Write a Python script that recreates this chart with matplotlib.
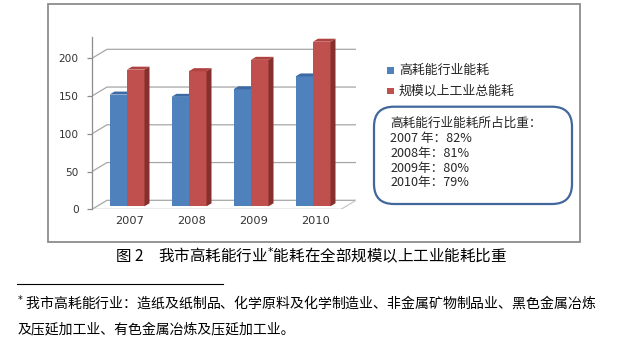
import matplotlib
matplotlib.use('Agg')
import matplotlib.pyplot as plt
from matplotlib.patches import Polygon, Rectangle, FancyBboxPatch
from matplotlib.transforms import IdentityTransform

plt.rcParams['font.family'] = ['Noto Sans CJK SC', 'DejaVu Sans']

# ---- data ----
years = ['2007', '2008', '2009', '2010']
high_energy = [148, 145, 155, 172]
total_energy = [181, 179, 194, 218]
series_names = ['高耗能行业能耗', '规模以上工业总能耗']
share_years = ['2007 年', '2008年', '2009年', '2010年']
shares = [82, 81, 80, 79]
yticks = [0, 50, 100, 150, 200]
box_title = '高耗能行业能耗所占比重：'
caption = '图 2\u3000我市高耗能行业$^{*}$能耗在全部规模以上工业能耗比重'
foot1 = '$^{*}$ 我市高耗能行业：造纸及纸制品、化学原料及化学制造业、非金属矿物制品业、黑色金属冶炼'
foot2 = '及压延加工业、有色金属冶炼及压延加工业。'

W, H = 620, 353
fig = plt.figure(figsize=(W / 100, H / 100), dpi=100)
fig.patch.set_facecolor('white')


def fx(p):
    return p / W


def fy(p):
    return 1 - p / H


PIX = IdentityTransform()

# outer frame
fig.patches.append(Rectangle((47.5, H - 242), 532.5, 238.5, transform=PIX,
                             fill=False, edgecolor='#8c8c8c', linewidth=1.3))

# ---- axes ----
ax_l, ax_r, ax_t, ax_b = 92, 356, 37, 209.3
ax = fig.add_axes([fx(ax_l), fy(ax_b), (ax_r - ax_l) / W, (ax_b - ax_t) / H])
ax.set_facecolor('none')
cat_px = 62.0
val_px = 0.755
xmin = -30 / cat_px
xmax = xmin + (ax_r - ax_l) / cat_px
ymax = (ax_b - ax_t) / val_px
ax.set_xlim(xmin, xmax)
ax.set_ylim(0, ymax)
ux = (xmax - xmin) / (ax_r - ax_l)
uy = ymax / (ax_b - ax_t)
DX, DY = 15 * ux, 9 * uy  # full depth of the 3D box

grid_c = '#a6a6a6'
for v in yticks:
    ax.plot([xmin, xmin + DX, xmax], [v, v + DY, v + DY], color=grid_c,
            lw=0.9, zorder=1, solid_capstyle='butt')
ax.plot([xmin, xmax - DX, xmax], [0, 0, DY], color='#c8c8c8', lw=0.9, zorder=1)

bw = 17.5 * ux
ox, oy = DX / 3, DY / 3
dx, dy = DX / 3, DY / 3
x = list(range(len(years)))

styles = [
    (high_energy, '#4f81bd', '#3d6aa4', '#365b8a', -1),
    (total_energy, '#c0504d', '#b0423f', '#86302e', 0),
]
containers = []
for i in x:
    for vals, front, top, side, off in styles:
        left = i + off * bw + ox
        v = vals[i]
        b = ax.bar(left, v, width=bw, bottom=oy, align='edge', color=front,
                   linewidth=0, zorder=3)
        if i == 0:
            containers.append(b)
        ax.add_patch(Polygon([(left, oy + v), (left + bw, oy + v),
                              (left + bw + dx, oy + v + dy), (left + dx, oy + v + dy)],
                             closed=True, facecolor=top, edgecolor='none', zorder=3))
        ax.add_patch(Polygon([(left + bw, oy), (left + bw, oy + v),
                              (left + bw + dx, oy + v + dy), (left + bw + dx, oy + dy)],
                             closed=True, facecolor=side, edgecolor='none', zorder=3))

for s in ['top', 'right', 'bottom']:
    ax.spines[s].set_visible(False)
ax.spines['left'].set_color('#8c8c8c')
ax.spines['left'].set_linewidth(0.9)

ax.set_yticks(yticks)
ax.set_yticklabels([str(v) for v in yticks], family='DejaVu Sans')
ax.tick_params(axis='y', length=3.6, width=0.9, color='#8c8c8c', pad=6,
               labelsize=7.6, labelcolor='#333333')
ax.set_xticks([i + ox + 0.04 for i in x])
ax.set_xticklabels(years, family='DejaVu Sans')
ax.tick_params(axis='x', length=0, pad=5, labelsize=8.2, labelcolor='#333333')

# ---- legend ----
leg_y = [70.7, 91.0]
for (vals, front, top, side, off), name, yy in zip(styles, series_names, leg_y):
    fig.patches.append(Rectangle((387.3, H - yy - 3.3), 7, 6.6, transform=PIX,
                                 facecolor=front, edgecolor='none'))
    fig.text(fx(399), fy(yy), name, fontsize=9.3, va='center', ha='left',
             color='#262626')

# ---- annotation box ----
fig.patches.append(FancyBboxPatch((374, H - 204), 198, 97.3, transform=PIX,
                                  boxstyle='round,pad=0,rounding_size=20',
                                  facecolor='white', edgecolor='#41679b',
                                  linewidth=1.6))
fig.text(fx(390.5), fy(123.5), box_title, fontsize=9.1, va='center', ha='left',
         color='#262626')
for k, (yl, s) in enumerate(zip(share_years, shares)):
    fig.text(fx(390.5), fy(138.7 + 14.7 * k), f'{yl}：{s}%', fontsize=9.1,
             va='center', ha='left', color='#262626')

# ---- caption & footnote ----
fig.text(fx(115), fy(256), caption, fontsize=11.2, va='center', ha='left',
         color='black')
fig.add_artist(plt.Line2D([fx(17), fx(223)], [fy(284), fy(284)], color='black',
                          lw=0.8))
fig.text(fx(17), fy(302.7), foot1, fontsize=10, va='center', ha='left',
         color='black')
fig.text(fx(18), fy(329.3), foot2, fontsize=10, va='center', ha='left',
         color='black')

fig.savefig('out.png', dpi=100, facecolor='white')
